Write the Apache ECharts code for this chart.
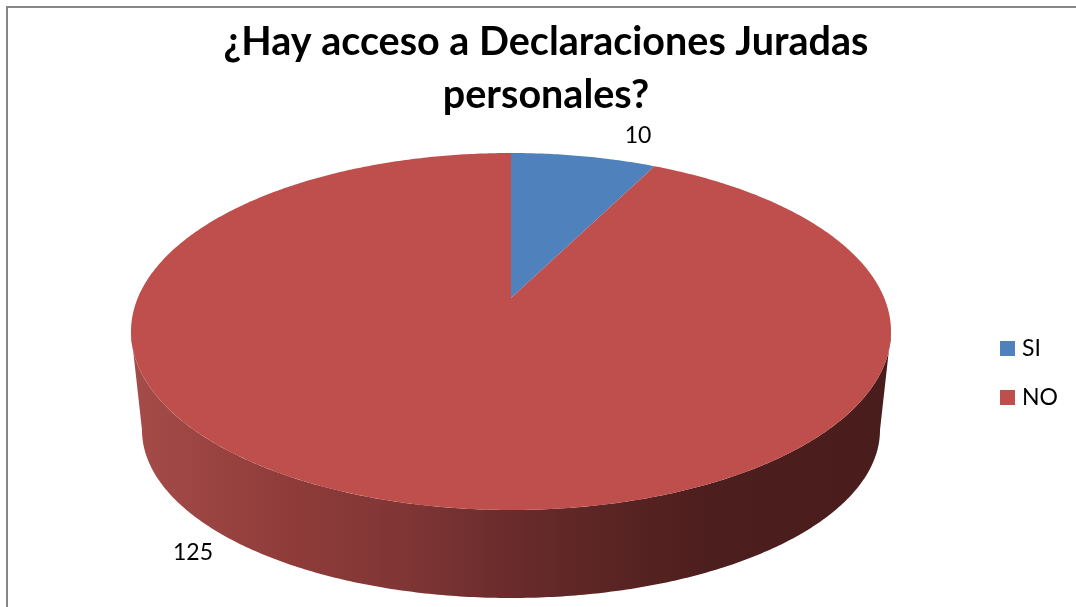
<!DOCTYPE html>
<html lang="es">
<head>
<meta charset="utf-8">
<title>¿Hay acceso a Declaraciones Juradas personales?</title>
<script src="https://cdn.jsdelivr.net/npm/echarts@6/dist/echarts.min.js"></script>
<style>
  html, body { margin: 0; padding: 0; background: #fff; }
  #chart { width: 1076px; height: 607px; }
</style>
</head>
<body>
<div id="chart"></div>
<script>
// Chart data
const titleLines = ['¿Hay acceso a Declaraciones Juradas', 'personales?'];
const categories = ['SI', 'NO'];
const counts = [10, 125];
const sliceColors = ['#4f81bd', '#be4f4c'];

// Tilted-disc geometry: rim ellipses and perspective strength
const TOP_RIM = { cx: 511, cy: 331.5, rx: 380, ry: 178.5 };
const BASE_RIM = { cx: 511, cy: 430, rx: 369, ry: 168 };
const TILT = 0.1877;
const LABEL_AT = [[638, 136], [193, 553]];
const FONT = 'Lato, "Open Sans", sans-serif';

// Side wall shading, dark towards the right
const WALL_STOPS = [
  { offset: 0, color: '#a54c49' },
  { offset: 0.22, color: '#8e3b39' },
  { offset: 0.36, color: '#7f3635' },
  { offset: 0.52, color: '#672a2a' },
  { offset: 0.76, color: '#4c1e1d' },
  { offset: 1, color: '#4a1d1d' }
];

// Angle 0 is the back of the disc; angles run clockwise seen from above
function project(rim, angle) {
  const d = 1 + TILT * Math.cos(angle);
  const s = Math.sqrt(1 - TILT * TILT);
  return [
    rim.cx + rim.rx * s * Math.sin(angle) / d,
    rim.cy - TILT * rim.ry - rim.ry * (1 - TILT * TILT) * Math.cos(angle) / d
  ];
}

function rimPoints(rim, from, to) {
  const steps = Math.max(2, Math.ceil(Math.abs(to - from) / 0.01));
  const pts = [];
  for (let i = 0; i <= steps; i++) {
    pts.push(project(rim, from + (to - from) * i / steps));
  }
  return pts;
}

function apex() {
  return [TOP_RIM.cx, TOP_RIM.cy - TILT * TOP_RIM.ry];
}

const total = counts.reduce((a, b) => a + b, 0);
const FRONT_FROM = Math.acos(-TILT);
const FRONT_TO = 2 * Math.PI - FRONT_FROM;

function renderSlice(params, api) {
  const a0 = api.value(0) / total * 2 * Math.PI;
  const a1 = api.value(1) / total * 2 * Math.PI;
  const color = sliceColors[params.seriesIndex];
  const children = [];

  // Only the front-facing part of a slice shows its side wall
  const w0 = Math.max(a0, FRONT_FROM);
  const w1 = Math.min(a1, FRONT_TO);
  if (w1 > w0) {
    children.push({
      type: 'polygon',
      shape: { points: rimPoints(TOP_RIM, w0, w1).concat(rimPoints(BASE_RIM, w1, w0)) },
      style: {
        fill: new echarts.graphic.LinearGradient(
          TOP_RIM.cx - TOP_RIM.rx, 0, TOP_RIM.cx + TOP_RIM.rx, 0, WALL_STOPS, true
        )
      }
    });
  }

  children.push({
    type: 'polygon',
    shape: { points: [apex()].concat(rimPoints(TOP_RIM, a0, a1)) },
    style: { fill: color }
  });

  const at = LABEL_AT[params.seriesIndex];
  children.push({
    type: 'text',
    style: {
      text: String(api.value(2)),
      x: at[0], y: at[1],
      align: 'center', verticalAlign: 'middle',
      font: '23px ' + FONT,
      fill: '#000'
    }
  });
  return { type: 'group', children };
}

let running = 0;
const series = categories.map((name, i) => {
  const start = running;
  running += counts[i];
  return {
    type: 'custom',
    name,
    coordinateSystem: 'none',
    renderItem: renderSlice,
    itemStyle: { color: sliceColors[i] },
    silent: true,
    data: [[start, running, counts[i]]]
  };
});

const chart = echarts.init(document.getElementById('chart'), null, { renderer: 'canvas' });
chart.setOption({
  animation: false,
  backgroundColor: '#ffffff',
  color: sliceColors,
  title: {
    text: titleLines.join('\n'),
    left: 541, top: 11,
    textAlign: 'center',
    textStyle: { fontFamily: FONT, fontWeight: 'bold', fontSize: 39.5, lineHeight: 53, color: '#000' }
  },
  legend: {
    data: categories,
    left: 995, top: 332,
    orient: 'vertical',
    icon: 'rect',
    itemWidth: 15, itemHeight: 15,
    itemGap: 26,
    selectedMode: false,
    textStyle: { fontFamily: FONT, fontSize: 23, color: '#000', padding: [0, 0, 0, 2] }
  },
  graphic: [{
    type: 'rect',
    silent: true,
    z: -1,
    shape: { x: 7, y: 7, width: 1200, height: 800 },
    style: { fill: null, stroke: '#868686', lineWidth: 2 }
  }],
  series
});
</script>
</body>
</html>
